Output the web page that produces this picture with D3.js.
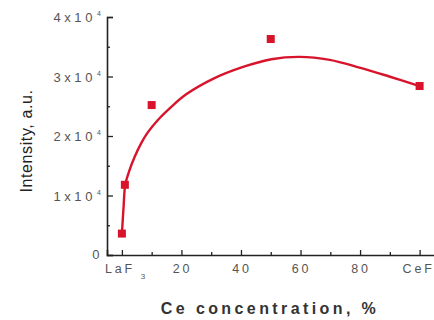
<!DOCTYPE html>
<html>
<head>
<meta charset="utf-8">
<script src="https://cdn.jsdelivr.net/npm/d3@7"></script>
<style>
  body { margin: 0; background: #fff; }
  svg { display: block; font-family: "Liberation Sans", Arial, sans-serif; }
</style>
</head>
<body>
<div id="chart"></div>
<script>
(function() {

  // measured points (Ce concentration %, intensity)
  var pointX = [0, 1, 10, 50, 100],
      pointY = [3600, 11800, 25200, 36300, 28400];

  // fitted curve
  var curveX = [0, 0.57, 1.14, 2.6, 4.3, 6.5, 8.7, 12.1, 16.6, 21.6, 30.6, 40.7, 50.2, 59.7, 69.8, 79.8, 89.8, 100],
      curveY = [3500, 8100, 11800, 14300, 16500, 18800, 20600, 22700, 24900, 27000, 29600, 31600, 32900, 33300, 32800, 31500, 30000, 28400];

  var yTicks = [0, 10000, 20000, 30000, 40000],
      yTickLabels = ["0", "1x10", "2x10", "3x10", "4x10"],
      yMinor = [5000, 15000, 25000, 35000],
      xTicks = [0, 20, 40, 60, 80, 100],
      xTickLabels = ["LaF", "20", "40", "60", "80", "CeF"],
      xMinor = [10, 30, 50, 70, 90];

  var width = 434, height = 320;

  var x = d3.scaleLinear().domain([-5, 105]).range([107, 434.5]),
      y = d3.scaleLinear().domain([0, 40000]).range([255, 17]);

  var red = "#d8142c";

  var svg = d3.select("#chart").append("svg")
      .attr("width", width)
      .attr("height", height);

  // axes, ticks pointing inward
  var xAxis = svg.append("g")
      .attr("transform", "translate(0," + y(0) + ")")
      .call(d3.axisTop(x).tickValues(xTicks).tickSize(5).tickFormat(""));
  xAxis.append("g")
      .call(d3.axisTop(x).tickValues(xMinor).tickSize(3).tickFormat(""));

  var yAxis = svg.append("g")
      .attr("transform", "translate(" + x(-5) + ",0)")
      .call(d3.axisRight(y).tickValues(yTicks).tickSize(6).tickFormat(""));
  yAxis.append("g")
      .call(d3.axisRight(y).tickValues(yMinor).tickSize(3).tickFormat(""));

  svg.selectAll(".domain").attr("stroke", "#222").attr("stroke-width", 1.6);
  svg.selectAll(".tick line").attr("stroke", "#222").attr("stroke-width", 1.3);
  svg.selectAll("g g .domain").remove();

  // y tick labels, exponent drawn as its own small text
  var yl = svg.append("g")
      .attr("fill", "#555")
      .attr("font-size", 13)
      .attr("letter-spacing", 3.6);
  yTicks.forEach(function(v, i) {
    yl.append("text")
        .attr("x", i === 0 ? 103 : 96)
        .attr("y", y(v) + (i === 0 ? 4 : 5))
        .attr("text-anchor", "end")
        .text(yTickLabels[i]);
    if (i > 0) {
      yl.append("text")
          .attr("x", 97)
          .attr("y", y(v) - 1)
          .attr("font-size", 7)
          .attr("letter-spacing", 0)
          .text("4");
    }
  });

  // x tick labels
  var xl = svg.append("g")
      .attr("fill", "#555")
      .attr("font-size", 12.5)
      .attr("letter-spacing", 2.8);
  xTicks.forEach(function(v, i) {
    var t = xl.append("text")
        .attr("x", x(v) + (i === 0 || i === 5 ? -17 : 1))
        .attr("y", 273)
        .attr("text-anchor", i === 0 || i === 5 ? "start" : "middle");
    t.append("tspan").text(xTickLabels[i]);
    if (i === 0 || i === 5) {
      t.append("tspan").attr("font-size", 8).attr("dx", 6).attr("dy", 6).text("3");
    }
  });

  // axis titles
  svg.append("text")
      .attr("x", 270)
      .attr("y", 314)
      .attr("text-anchor", "middle")
      .attr("font-size", 16)
      .attr("font-weight", "bold")
      .attr("letter-spacing", 3.4)
      .attr("fill", "#333")
      .text("Ce concentration, %");

  svg.append("text")
      .attr("transform", "translate(32,141) rotate(-90)")
      .attr("text-anchor", "middle")
      .attr("font-size", 16)
      .attr("letter-spacing", 0.6)
      .attr("fill", "#222")
      .text("Intensity, a.u.");

  // fitted curve
  var line = d3.line()
      .x(function(d) { return x(d[0]); })
      .y(function(d) { return y(d[1]); })
      .curve(d3.curveCatmullRom.alpha(0.5));

  svg.append("path")
      .datum(d3.zip(curveX, curveY))
      .attr("fill", "none")
      .attr("stroke", red)
      .attr("stroke-width", 2.4)
      .attr("d", line);

  // square markers
  var s = 8;
  svg.selectAll("rect.pt")
      .data(d3.zip(pointX, pointY))
    .enter().append("rect")
      .attr("class", "pt")
      .attr("x", function(d) { return x(d[0]) - s / 2; })
      .attr("y", function(d) { return y(d[1]) - s / 2; })
      .attr("width", s)
      .attr("height", s)
      .attr("fill", red);

})()
</script>
</body>
</html>
